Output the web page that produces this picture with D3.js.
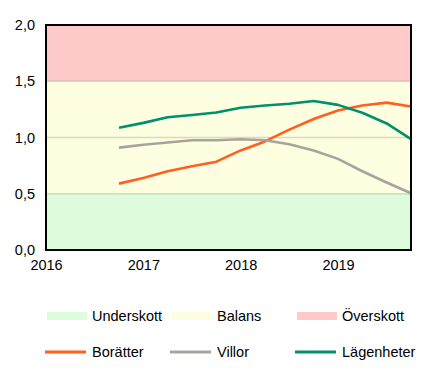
<!DOCTYPE html>
<html>
<head>
<meta charset="utf-8">
<script src="https://cdnjs.cloudflare.com/ajax/libs/d3/7.8.5/d3.min.js"></script>
<style>
  body { margin: 0; background: #fff; }
  svg { display: block; font-family: "Liberation Sans", Arial, sans-serif; }
</style>
</head>
<body>
<div id="chart"></div>
<script>
// quarters 2016Q1 .. 2019Q4, series begin at 2016Q4
const quarters = d3.range(16);
const yearLabels = ['2016', '2017', '2018', '2019'];
const yTicks = [0, 0.5, 1.0, 1.5, 2.0];
const startIdx = 3;

const boratter = [0.59, 0.64, 0.70, 0.745, 0.785, 0.885, 0.965, 1.07, 1.165, 1.24, 1.285, 1.31, 1.275];
const villor = [0.91, 0.935, 0.955, 0.975, 0.975, 0.985, 0.975, 0.94, 0.885, 0.81, 0.70, 0.60, 0.505];
const lagenheter = [1.087, 1.13, 1.18, 1.20, 1.222, 1.265, 1.285, 1.30, 1.325, 1.29, 1.22, 1.125, 0.985];

const bands = [
  { name: 'Underskott', from: 0, to: 0.5, color: '#dcfcdc' },
  { name: 'Balans', from: 0.5, to: 1.5, color: '#fefee0' },
  { name: 'Överskott', from: 1.5, to: 2.0, color: '#fecaca' }
];
const series = [
  { name: 'Borätter', values: boratter, color: '#ff5f1f' },
  { name: 'Villor', values: villor, color: '#aaa39d' },
  { name: 'Lägenheter', values: lagenheter, color: '#00906e' }
];

const w = 430, h = 380;
const plot = { left: 46, right: 411, top: 25, bottom: 250 };
const fs = 14.5;

const svg = d3.select('#chart').append('svg')
  .attr('width', w)
  .attr('height', h);

const x = d3.scaleLinear().domain([0, 15]).range([plot.left, plot.right]);
const y = d3.scaleLinear().domain([0, 2]).range([plot.bottom, plot.top]);

// background bands
svg.append('g').selectAll('rect')
  .data(bands)
  .enter()
  .append('rect')
  .attr('x', plot.left)
  .attr('width', plot.right - plot.left)
  .attr('y', d => y(d.to))
  .attr('height', d => y(d.from) - y(d.to))
  .attr('fill', d => d.color);

// gridlines
svg.append('g').selectAll('line')
  .data([0.5, 1.0, 1.5])
  .enter()
  .append('line')
  .attr('x1', plot.left)
  .attr('x2', plot.right)
  .attr('y1', d => y(d))
  .attr('y2', d => y(d))
  .attr('stroke', 'rgba(140,120,100,0.28)')
  .attr('stroke-width', 1.5);

// series lines
const line = d3.line()
  .x((d, i) => x(startIdx + i))
  .y(d => y(d));

svg.append('g').selectAll('path')
  .data(series)
  .enter()
  .append('path')
  .attr('d', d => line(d.values))
  .attr('fill', 'none')
  .attr('stroke', d => d.color)
  .attr('stroke-width', 2.6)
  .attr('stroke-linejoin', 'round');

// frame
svg.append('rect')
  .attr('x', plot.left)
  .attr('y', plot.top)
  .attr('width', plot.right - plot.left)
  .attr('height', plot.bottom - plot.top)
  .attr('fill', 'none')
  .attr('stroke', '#000')
  .attr('stroke-width', 2);

// y axis labels
const yAxis = d3.axisLeft(y)
  .tickValues(yTicks)
  .tickSize(0)
  .tickPadding(11)
  .tickFormat(d => d3.format('.1f')(d).replace('.', ','));
svg.append('g')
  .attr('transform', `translate(${plot.left},0)`)
  .call(yAxis)
  .call(g => g.select('.domain').remove())
  .selectAll('text')
  .attr('font-size', fs)
  .attr('font-family', '"Liberation Sans", Arial, sans-serif')
  .attr('fill', '#000');

// x axis labels
const xAxis = d3.axisBottom(x)
  .tickValues([0, 4, 8, 12])
  .tickSize(0)
  .tickPadding(10)
  .tickFormat((d, i) => yearLabels[i]);
svg.append('g')
  .attr('transform', `translate(0,${plot.bottom})`)
  .call(xAxis)
  .call(g => g.select('.domain').remove())
  .selectAll('text')
  .attr('font-size', fs)
  .attr('font-family', '"Liberation Sans", Arial, sans-serif')
  .attr('fill', '#000');

// legend
const colX = [47, 172, 297];
const leg = svg.append('g');

const bandItems = leg.selectAll('g.band')
  .data(bands)
  .enter()
  .append('g')
  .attr('transform', (d, i) => `translate(${colX[i]},316)`);
bandItems.append('rect')
  .attr('x', 0).attr('y', -4).attr('width', 40).attr('height', 8)
  .attr('fill', d => d.color);
bandItems.append('text')
  .attr('x', 45).attr('y', 5)
  .attr('font-size', fs)
  .text(d => d.name);

const lineItems = leg.selectAll('g.ser')
  .data(series)
  .enter()
  .append('g')
  .attr('transform', (d, i) => `translate(${colX[i] - 2},352)`);
lineItems.append('line')
  .attr('x1', 0).attr('x2', 41).attr('y1', 0).attr('y2', 0)
  .attr('stroke', d => d.color)
  .attr('stroke-width', 3);
lineItems.append('text')
  .attr('x', 47).attr('y', 5)
  .attr('font-size', fs)
  .text(d => d.name);
</script>
</body>
</html>
